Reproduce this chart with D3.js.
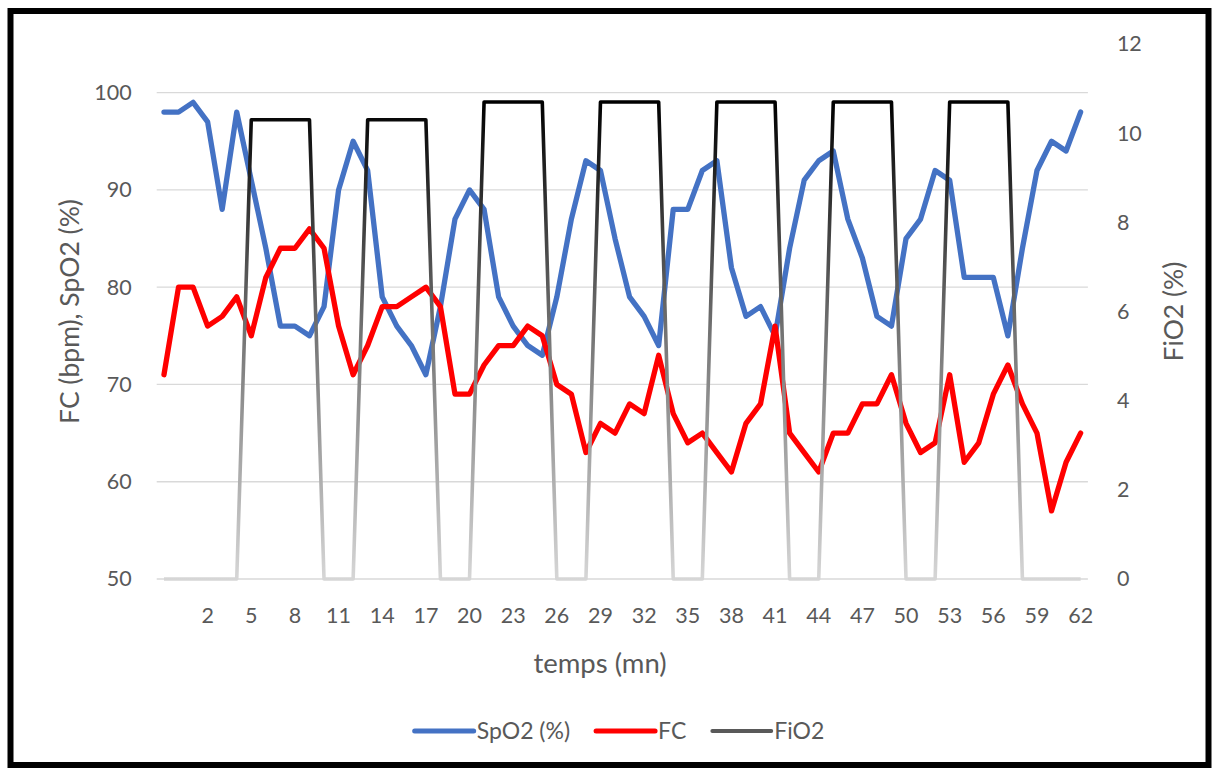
<!DOCTYPE html>
<html><head><meta charset="utf-8">
<script src="https://cdn.jsdelivr.net/npm/d3@7"></script>
<style>
body{margin:0;background:#fff;}
svg text{font-family:Lato,'Open Sans',sans-serif;fill:#595959;}
</style>
</head><body>
<svg id="chart" width="1214" height="769"></svg>
<script>
const categories = ["", "0","1","2","3","4","5","6","7","8","9","10","11","12","13","14","15","16","17","18","19","20",
  "21","22","23","24","25","26","27","28","29","30","31","32","33","34","35","36","37","38","39","40",
  "41","42","43","44","45","46","47","48","49","50","51","52","53","54","55","56","57","58","59","60","61","62"];
const spo2 = [98,98,99,97,88,98,91,84,76,76, 75,78,90,95,92,79,76,74,71,78, 87,90,88,79,76,74,73,79,87,93,
  92,85,79,77,74,88,88,92,93,82, 77,78,75,84,91,93,94,87,83,77, 76,85,87,92,91,81,81,81,75,84, 92,95,94,98];
const fc = [71,80,80,76,77,79,75,81,84,84, 86,84,76,71,74,78,78,79,80,78, 69,69,72,74,74,76,75,70,69,63,
  66,65,68,67,73,67,64,65,63,61, 66,68,76,65,63,61,65,65,68,68, 71,66,63,64,71,62,64,69,72,68, 65,57,62,65];
const fio2 = [0,0,0,0,0,0,10.3,10.3,10.3,10.3, 10.3,0,0,0,10.3,10.3,10.3,10.3,10.3,0, 0,0,10.7,10.7,10.7,10.7,10.7,0,0,0,
  10.7,10.7,10.7,10.7,10.7,0,0,0,10.7,10.7, 10.7,10.7,10.7,0,0,0,10.7,10.7,10.7,10.7, 10.7,0,0,0,10.7,10.7,10.7,10.7,10.7,0, 0,0,0,0];
const leftTicks = [50,60,70,80,90,100];
const rightTicks = [0,2,4,6,8,10,12];
const seriesNames = ["SpO2 (%)","FC","FiO2"];
const seriesColors = ["#4472C4","#FF0000","#595959"];
const xTitle = "temps (mn)";
const yLeftTitle = "FC (bpm), SpO2 (%)";
const yRightTitle = "FiO2 (%)";

const svg = d3.select("#chart");
const plot = {left:156.7, right:1087.9, top:44, bottom:579};

svg.append("rect").attr("width",1214).attr("height",769).attr("fill","#fff");
svg.append("rect").attr("x",10.5).attr("y",11).attr("width",1198).attr("height",754)
  .attr("fill","none").attr("stroke","#000").attr("stroke-width",6);

const x = d3.scaleBand().domain(categories).range([plot.left, plot.right]).padding(0);
const cx = (d) => x(d) + x.bandwidth()/2;
const yL = d3.scaleLinear().domain([50,105]).range([plot.bottom, plot.top]);
const yR = d3.scaleLinear().domain([0,12]).range([plot.bottom, plot.top]);

// gridlines
svg.append("g").selectAll("line").data(leftTicks).join("line")
  .attr("x1",plot.left).attr("x2",plot.right)
  .attr("y1",d=>yL(d)).attr("y2",d=>yL(d))
  .attr("stroke","#d9d9d9").attr("stroke-width",1.3);

// axes
const gx = svg.append("g").attr("transform",`translate(0,${plot.bottom})`)
  .call(d3.axisBottom(x).tickValues(categories.filter((d,i)=>i%3===0)).tickSize(0).tickPadding(29));
gx.select(".domain").remove();
gx.selectAll("text").attr("font-size","21.5px").style("font-family","Lato").attr("fill","#595959");

const gl = svg.append("g").attr("transform",`translate(${plot.left},0)`)
  .call(d3.axisLeft(yL).tickValues(leftTicks).tickSize(0).tickPadding(25));
gl.select(".domain").remove();
gl.selectAll("text").attr("font-size","21.5px").attr("fill","#595959");

const gr = svg.append("g").attr("transform",`translate(${plot.right},0)`)
  .call(d3.axisRight(yR).tickValues(rightTicks).tickSize(0).tickPadding(29));
gr.select(".domain").remove();
gr.selectAll("text").attr("font-size","21.5px").attr("fill","#595959");

// titles
svg.append("text").attr("x",600).attr("y",673).attr("text-anchor","middle")
  .attr("font-size","27.5px").text(xTitle);
svg.append("text").attr("transform",`translate(79,${(plot.top+plot.bottom)/2}) rotate(-90)`)
  .attr("text-anchor","middle").attr("font-size","26.5px").text(yLeftTitle);
svg.append("text").attr("transform",`translate(1183,${(plot.top+plot.bottom)/2}) rotate(-90)`)
  .attr("text-anchor","middle").attr("font-size","26.5px").text(yRightTitle);

// gradient for FiO2
const defs = svg.append("defs");
const grad = defs.append("linearGradient").attr("id","fioGrad").attr("gradientUnits","userSpaceOnUse")
  .attr("x1",0).attr("x2",0).attr("y1",yR(10.7)).attr("y2",yR(0));
grad.append("stop").attr("offset","0").attr("stop-color","#000");
grad.append("stop").attr("offset","0.5").attr("stop-color","#777");
grad.append("stop").attr("offset","1").attr("stop-color","#d6d6d6");

const lineL = (arr) => d3.line().x((d,i)=>cx(categories[i])).y(d=>yL(d))(arr);
const lineR = (arr) => d3.line().x((d,i)=>cx(categories[i])).y(d=>yR(d))(arr);

svg.append("path").attr("d",lineL(spo2)).attr("fill","none").attr("stroke",seriesColors[0])
  .attr("stroke-width",5.3).attr("stroke-linejoin","round").attr("stroke-linecap","round");
svg.append("path").attr("d",lineL(fc)).attr("fill","none").attr("stroke",seriesColors[1])
  .attr("stroke-width",5.3).attr("stroke-linejoin","round").attr("stroke-linecap","round");
svg.append("path").attr("d",lineR(fio2)).attr("fill","none").attr("stroke","url(#fioGrad)")
  .attr("stroke-width",3.6).attr("stroke-linejoin","round");

// legend
const lg = svg.append("g");
const items = seriesNames.map((n,i)=>({n, c:seriesColors[i], w: i===2?3.8:5}));
let pos = 0;
items.forEach((it,i)=>{
  const g = lg.append("g");
  g.append("line").attr("x1",0).attr("x2",59).attr("y1",0).attr("y2",0)
    .attr("stroke",it.c).attr("stroke-width",it.w).attr("stroke-linecap","round");
  const t = g.append("text").attr("x",62).attr("y",8).attr("font-size","23px").text(it.n);
  const w = 62 + t.node().getComputedTextLength();
  g.attr("transform",`translate(${pos},731)`);
  pos += w + 26;
});
const total = pos - 26;
lg.attr("transform",`translate(${619.5 - total/2},0)`);
</script>
</body></html>
